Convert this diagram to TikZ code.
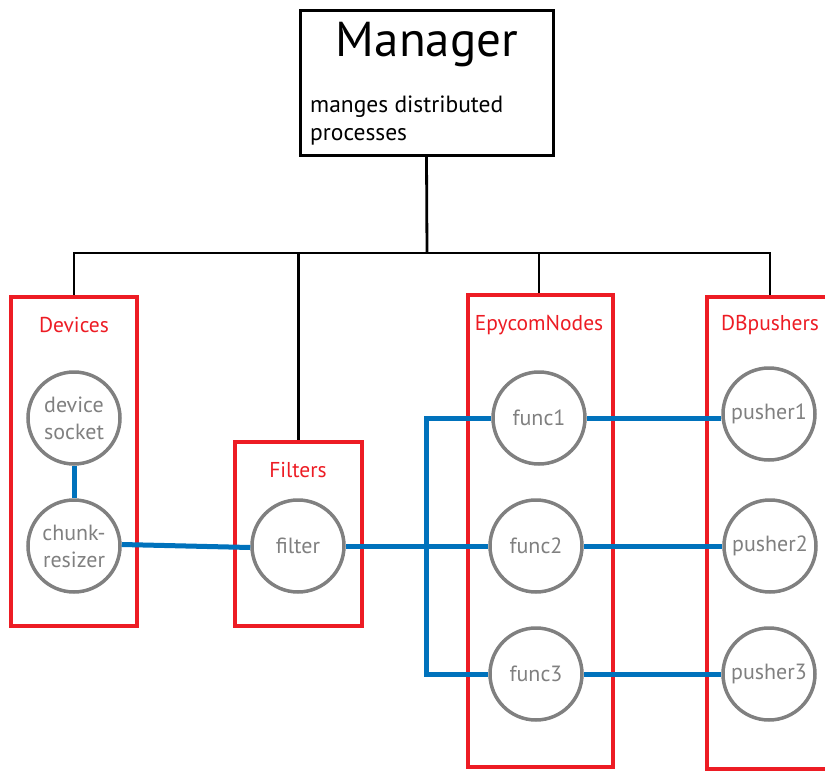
\documentclass[tikz,border=0pt]{standalone}
\usepackage{fontspec}
\setmainfont{PT Sans}
\definecolor{boxred}{RGB}{237,28,36}
\definecolor{linkblue}{RGB}{0,114,188}
\definecolor{nodegray}{RGB}{128,128,128}
\tikzset{
  mgrbox/.style={draw=black, line width=3pt, inner sep=0pt, minimum width=253pt, minimum height=145pt},
  groupbox/.style={draw=boxred, line width=4.5pt, inner sep=0pt},
  grouplabel/.style={text=boxred, font=\fontsize{21.5}{24}\selectfont, inner sep=0pt},
  proc/.style={circle, draw=nodegray, line width=3.5pt, minimum size=92pt, inner sep=0pt,
    text=nodegray, align=center, font=\fontsize{22}{27}\selectfont},
  tree/.style={draw=black, line width=2.8pt},
  flow/.style={draw=linkblue, line width=5pt},
}
\begin{document}
\begin{tikzpicture}[x=1pt, y=-1pt]
\useasboundingbox (0,0) rectangle (825,771);
\clip (0,0) rectangle (825,771);

% manager box
\node[mgrbox] (mgr) at (426.5,82.5) {};
\node[font=\fontsize{49}{54}\selectfont, inner sep=0pt] (mgrtitle) at (427,45) {Manager};
\node[font=\fontsize{23.5}{28}\selectfont, align=left, anchor=north west, inner sep=0pt] (mgrtext)
  at (310,96) {manges distributed\\processes};

% groups
\node[groupbox, minimum width=126pt, minimum height=329pt] (devices) at (74,461.5) {};
\node[groupbox, minimum width=127pt, minimum height=184pt] (filters) at (298.5,534) {};
\node[groupbox, minimum width=145pt, minimum height=472pt] (epycom) at (540.5,531) {};
\node[groupbox, minimum width=126pt, minimum height=472pt] (dbp) at (770,533) {};

\node[grouplabel] (devlbl) at (74,325) {Devices};
\node[grouplabel] (fillbl) at (298,470) {Filters};
\node[grouplabel] (epylbl) at (539,325) {EpycomNodes};
\node[grouplabel] (dblbl) at (770,325) {DBpushers};

% processes
\node[proc] (sock) at (74,418) {device\\socket};
\node[proc] (chunk) at (74,546) {chunk-\\resizer};
\node[proc] (filter) at (298,546) {filter};
\node[proc] (f1) at (539,418) {func1};
\node[proc] (f2) at (536,546) {func2};
\node[proc] (f3) at (536,674) {func3};
\node[proc] (p1) at (769,414) {pusher1};
\node[proc] (p2) at (770,546) {pusher2};
\node[proc] (p3) at (769,674) {pusher3};

% manager tree
\coordinate (hub) at (427,253);
\draw[tree] (mgr.south) -- (hub);
\draw[tree] (devices.north) |- (hub);
\draw[tree] (dbp.north) |- (hub);
\draw[tree] (filters.north) -- (filters.north |- hub);
\draw[tree] (epycom.north -| f1) -- (f1 |- hub);

% data flow
\coordinate (split) at (426,546);
\draw[flow] (sock) -- (chunk);
\draw[flow] ([yshift=1.5pt]chunk.east) -- ([yshift=-1.5pt]filter.west);
\draw[flow] (filter.east) -- (f2.west);
\draw[flow] (f1.west) -| (split) |- (f3.west);
\draw[flow] (f1.east) -- (f1.east -| p1.west);
\draw[flow] (f2.east) -- (p2.west);
\draw[flow] (f3.east) -- (f3.east -| p3.west);
\end{tikzpicture}
\end{document}
